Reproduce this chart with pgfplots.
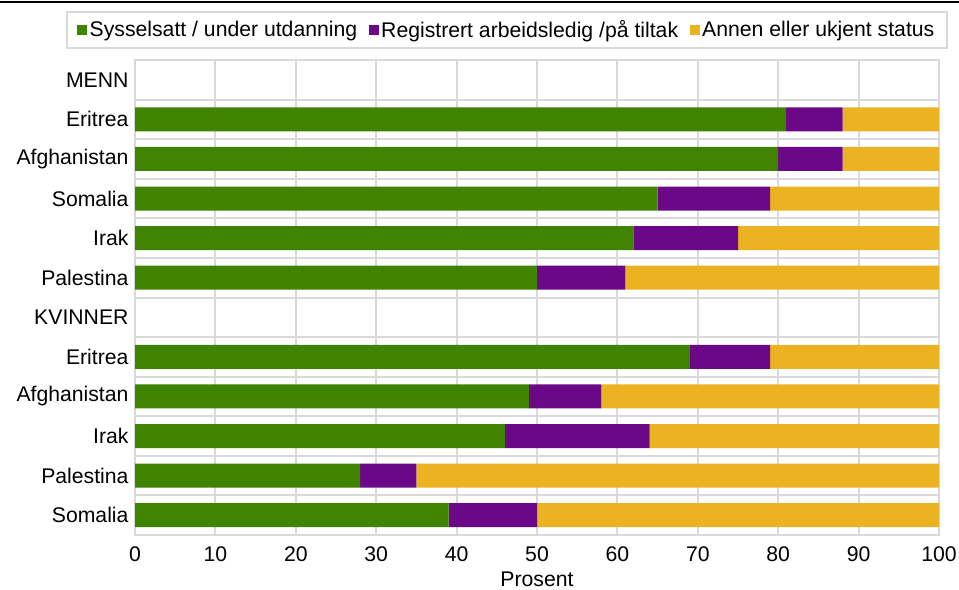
\documentclass[border=0pt]{standalone}
\usepackage{pgfplots}
\pgfplotsset{compat=1.18}
\usepackage{fontspec}
\setmainfont{Liberation Sans}
\definecolor{cgreen}{HTML}{3F8300}
\definecolor{cpurple}{HTML}{6A0888}
\definecolor{cyellow}{HTML}{EBB321}
\definecolor{cgrid}{HTML}{D9D9D9}
\begin{document}
\begin{tikzpicture}
\useasboundingbox (0,0) rectangle (959bp,-590bp);
\draw[black, line width=1.8bp] (0,-2bp) -- (959bp,-2bp);
\begin{axis}[
  at={(135bp,-535bp)}, anchor=south west,
  scale only axis, width=804bp, height=475bp,
  xbar stacked, bar width=24bp,
  xmin=0, xmax=100, ymin=-0.5, ymax=11.5, y dir=reverse,
  xtick={0,10,...,100}, ytick={0,...,11},
  yticklabels={MENN,Eritrea,Afghanistan,Somalia,Irak,Palestina,KVINNER,Eritrea,Afghanistan,Irak,Palestina,Somalia},
  minor ytick={-0.5,0.5,...,11.5},
  xmajorgrids, yminorgrids,
  major grid style={cgrid, line width=2bp},
  minor grid style={cgrid, line width=2bp},
  major tick length=0, minor tick length=0,
  axis line style={cgrid, line width=2bp},
  /pgf/number format/assume math mode=true,
  tick label style={font=\fontsize{21.2bp}{25bp}\selectfont, black},
  yticklabel style={xshift=-3bp},
  xticklabel style={yshift=-8bp},
  xlabel={Prosent},
  xlabel style={font=\fontsize{21.2bp}{25bp}\selectfont, yshift=-4bp},
  legend style={at={(0.4627,1.0632)}, anchor=center, legend columns=3,
    draw=cgrid, line width=2bp, font=\fontsize{21.2bp}{25bp}\selectfont,
    inner xsep=10bp, inner ysep=6bp, nodes={inner sep=2.5bp},
    /tikz/every even column/.append style={column sep=9bp}},
  legend cell align=left,
]
\addplot[fill=cgreen, draw=none, legend image code/.code={\fill[cgreen] (0bp,-5bp) rectangle (10bp,5bp);}] coordinates {
 (81,1) (80,2) (65,3) (62,4) (50,5) (69,7) (49,8) (46,9) (28,10) (39,11)};
\addlegendentry{Sysselsatt / under utdanning}
\addplot[fill=cpurple, draw=none, legend image code/.code={\fill[cpurple] (0bp,-5bp) rectangle (10bp,5bp);}] coordinates {
 (7,1) (8,2) (14,3) (13,4) (11,5) (10,7) (9,8) (18,9) (7,10) (11,11)};
\addlegendentry{Registrert arbeidsledig /på tiltak}
\addplot[fill=cyellow, draw=none, legend image code/.code={\fill[cyellow] (0bp,-5bp) rectangle (10bp,5bp);}] coordinates {
 (12,1) (12,2) (21.3,3) (25,4) (39,5) (21,7) (42,8) (36.3,9) (65,10) (50,11)};
\addlegendentry{Annen eller ukjent status}
\end{axis}
\end{tikzpicture}
\end{document}
